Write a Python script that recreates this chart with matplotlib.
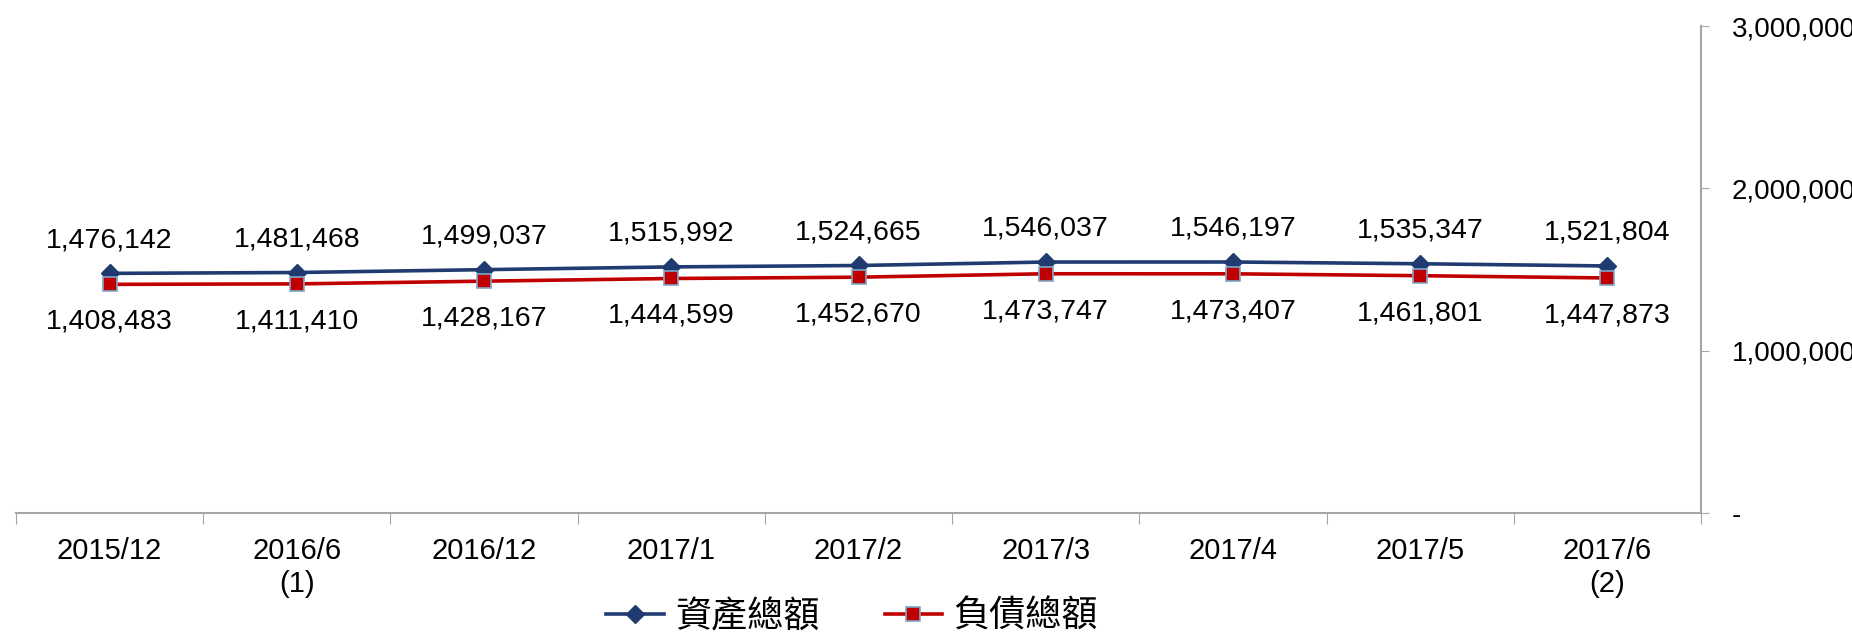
import matplotlib
matplotlib.use("Agg")
from matplotlib import pyplot as plt
from matplotlib.ticker import FuncFormatter
from matplotlib.lines import Line2D

# Data
categories = ["2015/12", "2016/6\n(1)", "2016/12", "2017/1", "2017/2",
              "2017/3", "2017/4", "2017/5", "2017/6\n(2)"]
assets = [1476142, 1481468, 1499037, 1515992, 1524665, 1546037, 1546197, 1535347, 1521804]
liabilities = [1408483, 1411410, 1428167, 1444599, 1452670, 1473747, 1473407, 1461801, 1447873]
y_ticks = [0, 1000000, 2000000, 3000000]
series_names = ["資產總額", "負債總額"]

plt.rcParams["font.family"] = ["Liberation Sans", "DejaVu Sans"]

blue = "#1F3B70"
red = "#C00000"
grid_gray = "#A6A6A6"

fig = plt.figure(figsize=(18.52, 6.32), dpi=100)
W, H = 1852, 632
ax = fig.add_axes([16 / W, 1 - 513 / H, 1685 / W, (513 - 26) / H])

x = list(range(len(categories)))
ax.plot(x, assets, color=blue, linewidth=2.6, marker="D", markersize=9,
        markerfacecolor=blue, markeredgecolor=blue, zorder=3)
ax.plot(x, liabilities, color=red, linewidth=2.6, marker="s", markersize=10,
        markerfacecolor=red, markeredgecolor="#7FA7C9", markeredgewidth=1.2, zorder=3)

for i, v in enumerate(assets):
    ax.annotate(f"{v:,}", (i, v), xytext=(0, 24), textcoords="offset points",
                ha="center", va="center", fontsize=20.5, color="black")
for i, v in enumerate(liabilities):
    ax.annotate(f"{v:,}", (i, v), xytext=(0, -27), textcoords="offset points",
                ha="center", va="center", fontsize=20.5, color="black")

ax.set_xlim(-0.5, len(categories) - 0.5)
ax.set_ylim(0, 3000000)

# x axis: ticks between categories, labels centred on categories
ax.set_xticks([i - 0.5 for i in range(len(categories) + 1)])
ax.set_xticklabels([])
ax.set_xticks(x, minor=True)
ax.set_xticklabels(categories, minor=True, fontsize=21, linespacing=1.25)
ax.tick_params(axis="x", which="major", length=8, color=grid_gray, direction="out")
ax.tick_params(axis="x", which="minor", length=0, pad=17)

# y axis on the right
ax.yaxis.tick_right()
ax.set_yticks(y_ticks)
ax.yaxis.set_major_formatter(FuncFormatter(lambda v, p: "-" if v == 0 else f"{int(v):,}"))
ax.tick_params(axis="y", length=6, color=grid_gray, labelsize=20, pad=16)

for side in ["left", "top"]:
    ax.spines[side].set_visible(False)
for side in ["right", "bottom"]:
    ax.spines[side].set_color(grid_gray)
    ax.spines[side].set_linewidth(1.5)

handles = [
    Line2D([], [], color=blue, linewidth=2.6, marker="D", markersize=9),
    Line2D([], [], color=red, linewidth=2.6, marker="s", markersize=10,
           markeredgecolor="#7FA7C9", markeredgewidth=1.2),
]
fig.legend(handles, series_names, loc="center", bbox_to_anchor=(852 / W, 1 - 617 / H),
           ncol=2, frameon=False, handlelength=1.6, columnspacing=1.8, handletextpad=0.3,
           prop={"family": ["Noto Sans CJK TC", "DejaVu Sans"], "size": 26})

fig.savefig("out.png", dpi=100)
